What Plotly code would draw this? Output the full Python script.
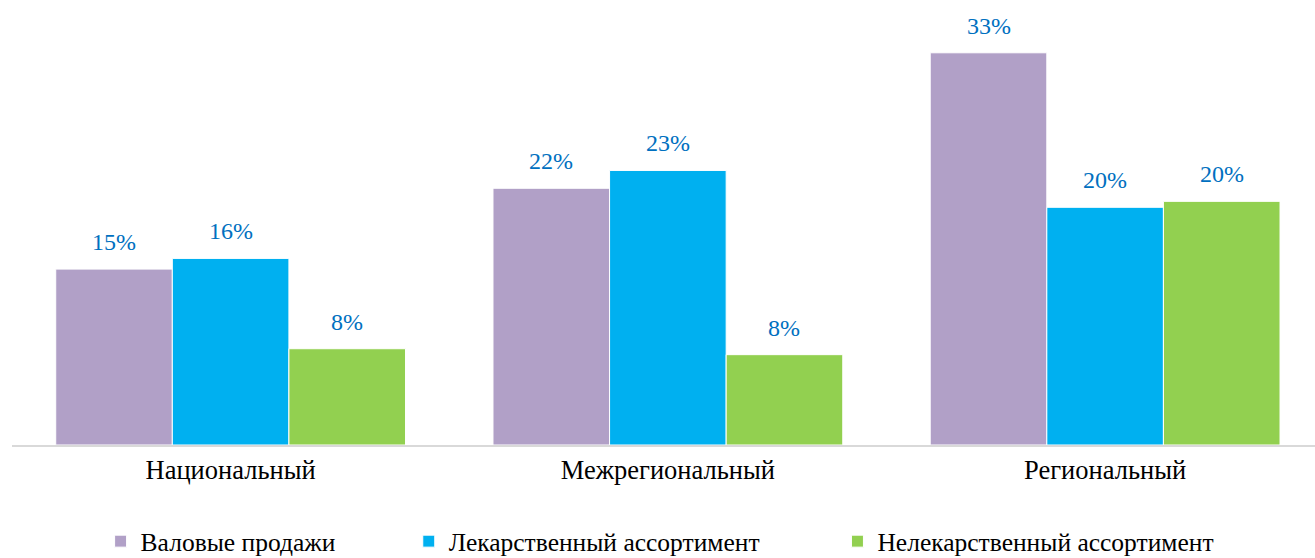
import plotly.graph_objects as go

categories = ["Национальный", "Межрегиональный", "Региональный"]
series_names = ["Валовые продажи", "Лекарственный ассортимент", "Нелекарственный ассортимент"]
gross_sales = [14.8, 21.6, 33.0]
drug_range = [15.7, 23.1, 20.0]
nondrug_range = [8.1, 7.6, 20.5]
colors = ["#B1A0C7", "#00B0F0", "#92D050"]

series_values = [gross_sales, drug_range, nondrug_range]
legend_ids = ["legend", "legend2", "legend3"]
legend_x = [0.068, 0.3045, 0.6335]

FONT = "Liberation Serif"

fig = go.Figure()
for name, vals, col, lid in zip(series_names, series_values, colors, legend_ids):
    fig.add_trace(go.Bar(
        x=categories, y=vals, name=name, legend=lid,
        marker=dict(color=col, line=dict(color="white", width=1)),
        hoverinfo="skip",
    ))

annotations = []
bar_px = 116.6
for i, vals in enumerate(series_values):
    for cat, v in zip(categories, vals):
        annotations.append(dict(
            x=cat, y=v, xref="x", yref="y", text=f"{round(v):d}%",
            showarrow=False, yanchor="bottom", yshift=12, xshift=(i - 1) * bar_px,
            font=dict(family=FONT, size=24, color="#0070C0"),
        ))

legend_common = dict(orientation="h", yanchor="middle", y=-0.222, xanchor="left",
                     font=dict(family=FONT, size=25.5, color="black"),
                     bgcolor="rgba(0,0,0,0)")
layout_legends = {}
for lid, lx in zip(legend_ids, legend_x):
    layout_legends[lid] = dict(legend_common, x=lx)

fig.update_layout(
    width=1315, height=558,
    margin=dict(l=12, r=0, t=10, b=113, autoexpand=False),
    paper_bgcolor="white", plot_bgcolor="white",
    barmode="group", bargap=0.2, bargroupgap=0,
    showlegend=True,
    xaxis=dict(range=[-0.5, 2.48], showgrid=False, showline=True, linecolor="#D9D9D9",
               linewidth=2, ticks="", automargin=False,
               tickfont=dict(family=FONT, size=26.5, color="black")),
    yaxis=dict(range=[0, 36.6], showgrid=False, showticklabels=False, zeroline=False,
               automargin=False),
    annotations=annotations,
    **layout_legends,
)

fig.write_html("out.html", config={"displayModeBar": False},
               post_script="document.body.style.margin='0';document.body.style.overflow='hidden';")
